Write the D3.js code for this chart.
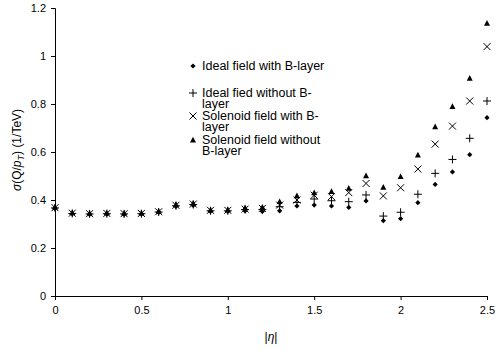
<!DOCTYPE html>
<html>
<head>
<meta charset="utf-8">
<script src="https://cdn.jsdelivr.net/npm/d3@7"></script>
<style>
  html, body { margin: 0; padding: 0; background: #fff; }
  svg { display: block; font-family: "Liberation Sans", Arial, sans-serif; }
</style>
</head>
<body>
<svg id="chart" width="498" height="351"></svg>
<script>
// |eta| bins
const eta = [0, 0.1, 0.2, 0.3, 0.4, 0.5, 0.6, 0.7, 0.8, 0.9, 1.0, 1.1, 1.2,
             1.3, 1.4, 1.5, 1.6, 1.7, 1.8, 1.9, 2.0, 2.1, 2.2, 2.3, 2.4, 2.5];

// sigma(Q/pT) in 1/TeV for each configuration
const idealWithB = [0.365, 0.342, 0.340, 0.341, 0.340, 0.341, 0.348, 0.373, 0.378, 0.352, 0.352, 0.355, 0.352,
                    0.355, 0.375, 0.379, 0.375, 0.369, 0.396, 0.314, 0.322, 0.389, 0.465, 0.517, 0.589, 0.743];
const idealWithoutB = [0.367, 0.344, 0.342, 0.343, 0.342, 0.343, 0.350, 0.376, 0.381, 0.355, 0.355, 0.360, 0.360,
                       0.372, 0.390, 0.404, 0.397, 0.393, 0.421, 0.333, 0.349, 0.424, 0.511, 0.569, 0.657, 0.8125];
const solenoidWithB = [0.368, 0.345, 0.343, 0.344, 0.343, 0.344, 0.351, 0.378, 0.383, 0.357, 0.357, 0.362, 0.365,
                       0.379, 0.400, 0.420, 0.414, 0.431, 0.469, 0.417, 0.451, 0.529, 0.633, 0.708, 0.8125, 1.039];
const solenoidWithoutB = [0.370, 0.347, 0.345, 0.346, 0.345, 0.346, 0.353, 0.381, 0.386, 0.359, 0.359, 0.367, 0.370,
                          0.393, 0.417, 0.430, 0.435, 0.449, 0.501, 0.453, 0.497, 0.5875, 0.705, 0.789, 0.907, 1.136];

const xTicks = [0, 0.5, 1, 1.5, 2, 2.5];
const yTicks = [0, 0.2, 0.4, 0.6, 0.8, 1, 1.2];

// legend text, wrapped into lines as the legend box shows it
const legendLines = [["Ideal field with B-layer"],
                     ["Ideal fied without B-", "layer"],
                     ["Solenoid field with B-", "layer"],
                     ["Solenoid field without", "B-layer"]];
const seriesValues = [idealWithB, idealWithoutB, solenoidWithB, solenoidWithoutB];
const markerKinds = ["diamond", "plus", "cross", "triangle"];

const svg = d3.select("#chart");
const margin = { left: 55, right: 11, top: 8, bottom: 55 };
const W = 498, H = 351;

const x = d3.scaleLinear().domain([0, 2.5]).range([margin.left, W - margin.right]);
const y = d3.scaleLinear().domain([0, 1.2]).range([H - margin.bottom, margin.top]);

// axes
const xAxis = svg.append("g")
  .attr("transform", `translate(0,${y(0)})`)
  .call(d3.axisBottom(x).tickValues(xTicks).tickFormat(d3.format("")).tickSizeOuter(0).tickSize(4).tickPadding(6));
const yAxis = svg.append("g")
  .attr("transform", `translate(${x(0)},0)`)
  .call(d3.axisLeft(y).tickValues(yTicks).tickFormat(d3.format("")).tickSizeOuter(0).tickSize(4).tickPadding(5));

[xAxis, yAxis].forEach(g => {
  g.select(".domain").attr("stroke", "#000").attr("stroke-width", 1);
  g.selectAll(".tick line").attr("stroke", "#000");
  g.selectAll(".tick text").attr("fill", "#000").style("font-size", "11px")
    .style("font-family", "'Liberation Sans', Arial, sans-serif");
});

// marker path generators (centered at origin)
function markerPath(kind) {
  switch (kind) {
    case "diamond": return "M0,-2.6L2.6,0L0,2.6L-2.6,0Z";
    case "triangle": return "M0,-3.3L3,2.4L-3,2.4Z";
    case "plus": return "M-4,0H4M0,-4V4";
    case "cross": return "M-3.5,-3.5L3.5,3.5M3.5,-3.5L-3.5,3.5";
  }
}
function styleMarker(sel, kind) {
  if (kind === "diamond" || kind === "triangle") {
    sel.attr("fill", "#000").attr("stroke", "none");
  } else {
    sel.attr("fill", "none").attr("stroke", "#000").attr("stroke-width", 1);
  }
}

// data markers
seriesValues.forEach((vals, si) => {
  const kind = markerKinds[si];
  const g = svg.append("g").attr("class", "series");
  g.selectAll("path")
    .data(vals.map((v, i) => ({ e: eta[i], v })))
    .join("path")
    .attr("d", markerPath(kind))
    .attr("transform", d => `translate(${x(d.e)},${y(d.v)})`)
    .call(styleMarker, kind);
});

// legend
const legend = svg.append("g").attr("class", "legend");
const legendTop = [66, 93, 116, 140];
legendLines.forEach((lines, i) => {
  const m = legend.append("path")
    .attr("d", markerPath(markerKinds[i]))
    .attr("transform", `translate(193,${legendTop[i]})`);
  styleMarker(m, markerKinds[i]);
  const t = legend.append("text")
    .attr("x", 202)
    .attr("y", legendTop[i] + 4)
    .style("font-size", "12.5px")
    .attr("fill", "#000");
  lines.forEach((ln, k) => {
    t.append("tspan").attr("x", 202).attr("dy", k === 0 ? 0 : 11).text(ln);
  });
});

// axis titles
svg.append("text")
  .attr("x", (x(0) + x(2.5)) / 2)
  .attr("y", 341)
  .attr("text-anchor", "middle")
  .style("font-size", "12px")
  .html('|<tspan font-style="italic">η</tspan>|');

const yt = svg.append("text")
  .attr("transform", `translate(21,${(y(0) + y(1.2)) / 2 - 2}) rotate(-90)`)
  .attr("text-anchor", "middle")
  .style("font-size", "12px");
yt.append("tspan").attr("font-style", "italic").text("σ");
yt.append("tspan").text("(Q/");
yt.append("tspan").attr("font-style", "italic").text("p");
yt.append("tspan").attr("font-style", "italic").attr("font-size", "9px").attr("dy", 3).text("T");
yt.append("tspan").attr("dy", -3).text(") (1/TeV)");
</script>
</body>
</html>
